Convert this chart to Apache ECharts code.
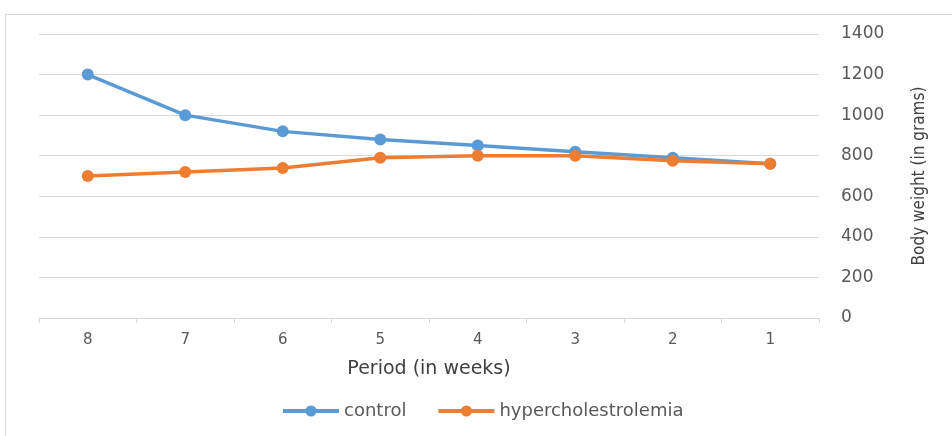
<!DOCTYPE html>
<html lang="en">
  <head>
    <meta charset="UTF-8" />
    <title>body weight chart</title>
    <style>
      body, html {
        margin: 0;
        width: 100%;
        height: 100%;
        background: #fff;
      }
    </style>
  </head>
  <body>
    <div id="main" style="width:952px;height:436px;"></div>

    <script src="https://cdn.jsdelivr.net/npm/echarts@6/dist/echarts.min.js"></script>
    <script>
      const weeks = ['8', '7', '6', '5', '4', '3', '2', '1'];
      const control = [1200, 1000, 920, 880, 850, 820, 790, 760];
      const hyper = [700, 720, 740, 790, 800, 800, 775, 760];
      const yTicks = { min: 0, max: 1400, interval: 200 };

      const myChart = echarts.init(document.getElementById('main'));
      const font = '"DejaVu Sans", "Open Sans", sans-serif';

      const lineSeries = (name, data, color) => ({
        name,
        type: 'line',
        data,
        symbol: 'circle',
        symbolSize: 12,
        lineStyle: { width: 3.5, color },
        itemStyle: { color },
      });

      const option = {
        animation: false,
        textStyle: { fontFamily: font },
        graphic: [
          {
            type: 'polyline',
            shape: { points: [[5.5, 436], [5.5, 14.5], [952, 14.5]] },
            style: { stroke: '#d9d9d9', lineWidth: 1, fill: null },
          },
        ],
        grid: { left: 39, right: 133, top: 34, bottom: 118 },
        legend: {
          bottom: 11,
          left: 276,
          itemWidth: 56,
          itemHeight: 14,
          itemGap: 30,
          lineStyle: { width: 4 },
          textStyle: { fontSize: 18, color: '#595959', fontFamily: font },
          data: ['control', 'hypercholestrolemia'],
        },
        xAxis: {
          type: 'category',
          data: weeks,
          boundaryGap: true,
          name: 'Period (in weeks)',
          nameLocation: 'middle',
          nameGap: 42,
          nameTextStyle: { fontSize: 19, color: '#404040' },
          axisLine: { lineStyle: { color: '#d9d9d9' } },
          axisTick: { show: true, alignWithLabel: false, length: 5, lineStyle: { color: '#d9d9d9' } },
          axisLabel: { fontSize: 15, color: '#595959', margin: 15 },
        },
        yAxis: {
          type: 'value',
          position: 'right',
          min: yTicks.min,
          max: yTicks.max,
          interval: yTicks.interval,
          name: 'Body weight (in grams)',
          nameLocation: 'middle',
          nameRotate: 90,
          nameGap: 92,
          nameTextStyle: { fontSize: 17, color: '#404040', fontFamily: '"Liberation Sans Narrow", "DejaVu Sans Condensed", sans-serif' },
          axisLine: { show: false },
          axisTick: { show: false },
          axisLabel: { fontSize: 17, color: '#595959', margin: 22, formatter: v => String(v) },
          splitLine: { lineStyle: { color: '#d9d9d9', width: 1 } },
        },
        series: [
          lineSeries('control', control, '#5b9bd5'),
          lineSeries('hypercholestrolemia', hyper, '#ed7d31'),
        ],
      };

      myChart.setOption(option);
    </script>
  </body>
</html>
